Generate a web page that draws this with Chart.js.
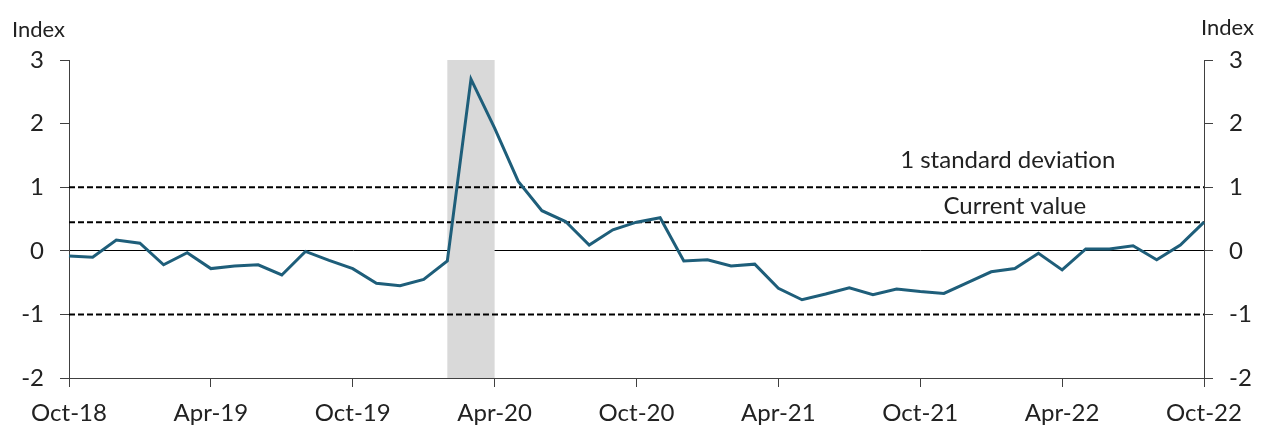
<!DOCTYPE html>
<html>
<head>
<meta charset="utf-8">
<script src="https://cdn.jsdelivr.net/npm/chart.js@4"></script>
<style>
  body { margin: 0; background: #fff; }
  #wrap { width: 1270px; height: 430px; position: relative; }
</style>
</head>
<body>
<div id="wrap"><canvas id="chart"></canvas></div>
<script>
const months = [
  'Oct-18', 'Nov-18', 'Dec-18', 'Jan-19', 'Feb-19', 'Mar-19', 'Apr-19', 'May-19', 'Jun-19', 'Jul-19', 'Aug-19', 'Sep-19',
  'Oct-19', 'Nov-19', 'Dec-19', 'Jan-20', 'Feb-20', 'Mar-20', 'Apr-20', 'May-20', 'Jun-20', 'Jul-20', 'Aug-20', 'Sep-20',
  'Oct-20', 'Nov-20', 'Dec-20', 'Jan-21', 'Feb-21', 'Mar-21', 'Apr-21', 'May-21', 'Jun-21', 'Jul-21', 'Aug-21', 'Sep-21',
  'Oct-21', 'Nov-21', 'Dec-21', 'Jan-22', 'Feb-22', 'Mar-22', 'Apr-22', 'May-22', 'Jun-22', 'Jul-22', 'Aug-22', 'Sep-22',
  'Oct-22'
];
const indexValues = [
  -0.08, -0.10, 0.17, 0.12, -0.22, -0.03, -0.28, -0.24, -0.22, -0.38, -0.01, -0.15,
  -0.28, -0.51, -0.55, -0.45, -0.16, 2.70, 1.93, 1.09, 0.63, 0.46, 0.09, 0.33,
  0.45, 0.52, -0.16, -0.14, -0.24, -0.21, -0.59, -0.77, -0.68, -0.58, -0.69, -0.60,
  -0.64, -0.67, -0.50, -0.33, -0.28, -0.04, -0.30, 0.03, 0.03, 0.08, -0.14, 0.09,
  0.45
];
const tickLabels = ['Oct-18', 'Apr-19', 'Oct-19', 'Apr-20', 'Oct-20', 'Apr-21', 'Oct-21', 'Apr-22', 'Oct-22'];
const upperStdDev = 1;
const lowerStdDev = -1;
const currentValue = 0.45;
const shadedPeriod = ['Feb-20', 'Apr-20'];

const fontFamily = 'Lato, "Open Sans", sans-serif';
const lineColor = '#1e5e7a';
const axisColor = '#404040';

function flat(v) {
  return months.map(() => v);
}

// grey band + text labels
const extras = {
  id: 'extras',
  beforeDatasetsDraw(chart) {
    const { ctx, chartArea, scales } = chart;
    const x0 = scales.x.getPixelForValue(months.indexOf(shadedPeriod[0]));
    const x1 = scales.x.getPixelForValue(months.indexOf(shadedPeriod[1]));
    ctx.save();
    ctx.fillStyle = '#d9d9d9';
    ctx.fillRect(x0, chartArea.top, x1 - x0, chartArea.bottom - chartArea.top);
    ctx.restore();
  },
  afterDraw(chart) {
    const { ctx, scales } = chart;
    ctx.save();
    ctx.fillStyle = '#222';
    ctx.textBaseline = 'middle';
    ctx.font = '22px ' + fontFamily;
    ctx.textAlign = 'left';
    ctx.fillText('Index', 12, 30);
    ctx.fillText('Index', 1201, 28);
    ctx.font = '24px ' + fontFamily;
    ctx.textAlign = 'center';
    ctx.fillText('1 standard deviation', scales.x.getPixelForValue(39.7), scales.y.getPixelForValue(1.42));
    ctx.fillText('Current value', scales.x.getPixelForValue(40), scales.y.getPixelForValue(0.7));
    ctx.restore();
  }
};

const refLine = (data) => ({
  data: data,
  borderColor: '#000',
  borderWidth: 2,
  borderDash: [6, 3],
  pointRadius: 0,
  fill: false,
  order: 2
});

new Chart(document.getElementById('chart'), {
  type: 'line',
  data: {
    labels: months,
    datasets: [
      {
        label: 'Index',
        data: indexValues,
        borderColor: lineColor,
        borderWidth: 3,
        pointRadius: 0,
        tension: 0,
        fill: false,
        order: 1
      },
      refLine(flat(upperStdDev)),
      refLine(flat(lowerStdDev)),
      refLine(flat(currentValue))
    ]
  },
  options: {
    responsive: true,
    maintainAspectRatio: false,
    animation: false,
    layout: { padding: { top: 60, left: 0, right: 0, bottom: 0 } },
    plugins: {
      legend: { display: false },
      tooltip: { enabled: false }
    },
    scales: {
      x: {
        type: 'category',
        offset: false,
        border: { color: axisColor, width: 1 },
        grid: {
          drawOnChartArea: false,
          tickLength: 9,
          tickColor: (c) => tickLabels.includes(months[c.index]) ? axisColor : 'rgba(0,0,0,0)'
        },
        ticks: {
          autoSkip: false,
          maxRotation: 0,
          padding: 12,
          color: '#222',
          font: { family: fontFamily, size: 24 },
          callback: (v, i) => tickLabels.includes(months[i]) ? months[i] : ''
        },
        afterFit: (s) => { s.height = 52; }
      },
      y: {
        position: 'left',
        min: -2,
        max: 3,
        border: { color: axisColor, width: 1 },
        grid: {
          color: (c) => c.tick && c.tick.value === 0 ? '#000' : 'rgba(0,0,0,0)',
          lineWidth: 1,
          tickLength: 9,
          tickColor: axisColor
        },
        ticks: {
          stepSize: 1,
          padding: 16,
          color: '#222',
          font: { family: fontFamily, size: 24 }
        },
        afterFit: (s) => { s.width = 69; }
      },
      y2: {
        position: 'right',
        min: -2,
        max: 3,
        border: { color: axisColor, width: 1 },
        grid: {
          drawOnChartArea: false,
          tickLength: 9,
          tickColor: axisColor
        },
        ticks: {
          stepSize: 1,
          padding: 16,
          color: '#222',
          font: { family: fontFamily, size: 24 }
        },
        afterFit: (s) => { s.width = 66; }
      }
    }
  },
  plugins: [extras]
});
</script>
</body>
</html>
